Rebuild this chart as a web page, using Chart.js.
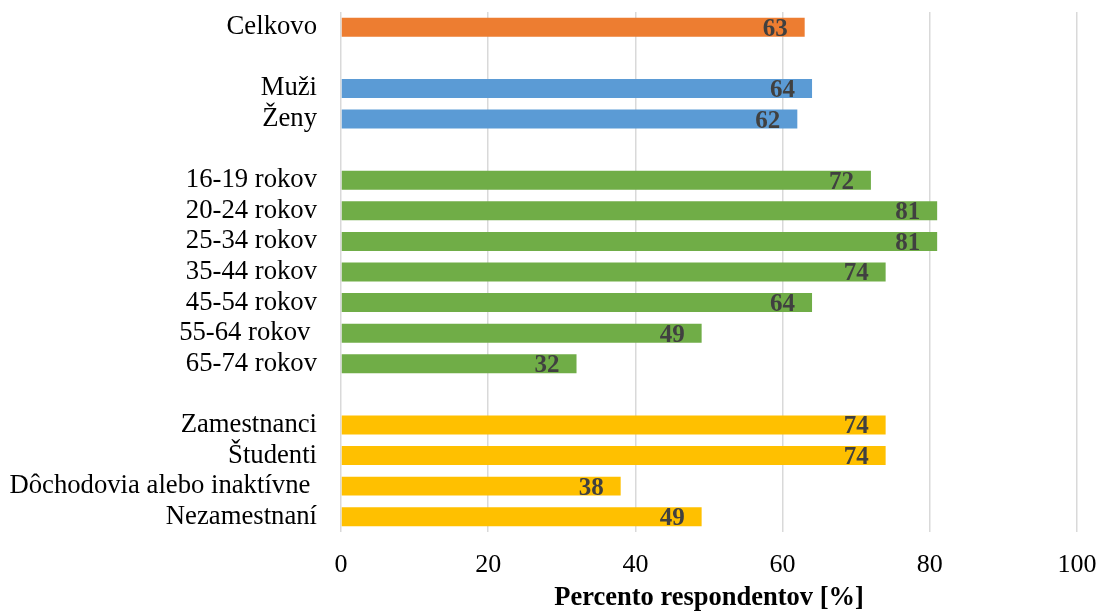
<!DOCTYPE html>
<html>
<head>
<meta charset="utf-8">
<title>Percento respondentov</title>
<script src="https://cdn.jsdelivr.net/npm/chart.js@4"></script>
<style>
  html, body { margin: 0; padding: 0; background: #ffffff; }
  #wrap { width: 1100px; height: 612px; }
</style>
</head>
<body>
<div id="wrap"><canvas id="c" width="1100" height="612"></canvas></div>
<script>
// Row labels; empty strings are spacer rows between groups
const categories = [
  'Celkovo', '',
  'Muži', 'Ženy', '',
  '16-19 rokov', '20-24 rokov', '25-34 rokov', '35-44 rokov', '45-54 rokov', '55-64 rokov ', '65-74 rokov', '',
  'Zamestnanci', 'Študenti', 'Dôchodovia alebo inaktívne ', 'Nezamestnaní'
];
// Share of respondents in percent (null = spacer row)
const values = [
  63, null,
  64, 62, null,
  72, 81, 81, 74, 64, 49, 32, null,
  74, 74, 38, 49
];
// Group each row belongs to
const groups = [
  'total', null,
  'sex', 'sex', null,
  'age', 'age', 'age', 'age', 'age', 'age', 'age', null,
  'status', 'status', 'status', 'status'
];
const xTicks = [0, 20, 40, 60, 80, 100];
const xTitle = 'Percento respondentov [%]';

const groupColors = { total: '#ED7D31', sex: '#5B9BD5', age: '#70AD47', status: '#FFC000' };
const serif = '"Liberation Serif", "Times New Roman", serif';

// Value written inside the end of each bar
const barValueLabels = {
  id: 'barValueLabels',
  afterDatasetsDraw(chart) {
    const ctx = chart.ctx;
    const meta = chart.getDatasetMeta(0);
    ctx.save();
    ctx.font = 'bold 25px ' + serif;
    ctx.fillStyle = '#404040';
    ctx.textAlign = 'right';
    ctx.textBaseline = 'middle';
    meta.data.forEach((bar, i) => {
      const v = values[i];
      if (v === null || v === undefined) return;
      ctx.fillText(String(v), bar.x - 17, bar.y + 2);
    });
    ctx.restore();
  }
};

new Chart(document.getElementById('c'), {
  type: 'bar',
  data: {
    labels: categories,
    datasets: [{
      data: values,
      backgroundColor: groups.map(g => g ? groupColors[g] : 'rgba(0,0,0,0)'),
      borderWidth: 0,
      categoryPercentage: 1,
      barPercentage: 0.62
    }]
  },
  options: {
    indexAxis: 'y',
    responsive: false,
    animation: false,
    layout: { padding: { left: 0, right: 23, top: 12, bottom: 0 } },
    plugins: {
      legend: { display: false },
      tooltip: { enabled: false }
    },
    scales: {
      x: {
        min: 0,
        max: 100,
        afterBuildTicks(scale) { scale.ticks = xTicks.map(v => ({ value: v })); },
        afterFit(scale) { scale.height = 80; scale.paddingLeft = 0; scale.paddingRight = 0; },
        grid: { color: '#d9d9d9', lineWidth: 1.5, drawTicks: false },
        border: { display: false },
        ticks: { color: '#000000', padding: 18, font: { family: serif, size: 26 } },
        title: {
          display: true,
          text: xTitle,
          color: '#000000',
          font: { family: serif, size: 26.5, weight: 'bold', lineHeight: 1 },
          padding: { top: 0, bottom: 1 }
        }
      },
      y: {
        afterFit(scale) { scale.width = 341; scale.paddingTop = 0; scale.paddingBottom = 0; },
        grid: { display: false, drawTicks: false },
        border: { display: false },
        ticks: { color: '#000000', padding: 24, autoSkip: false, font: { family: serif, size: 26.7 } }
      }
    }
  },
  plugins: [barValueLabels]
});
</script>
</body>
</html>
